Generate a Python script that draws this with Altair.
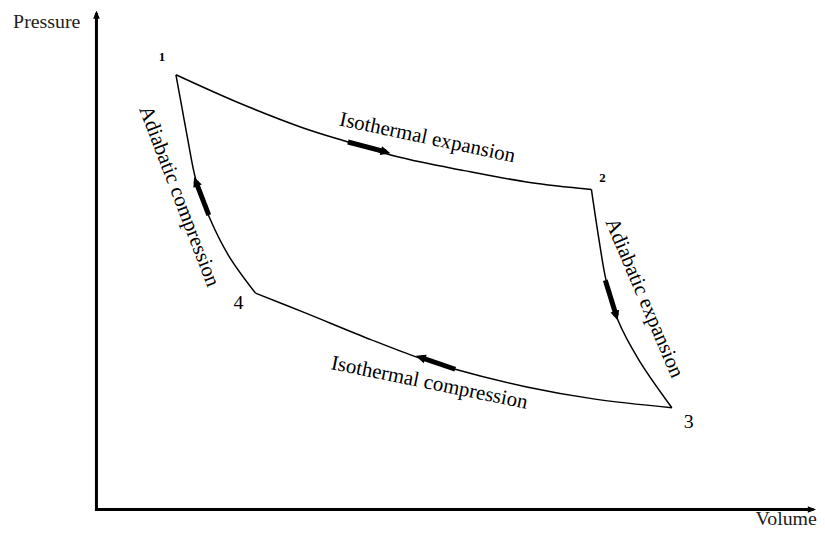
import altair as alt
import pandas as pd

# ---- Carnot cycle path (volume, pressure; arbitrary units) ----
iso_exp_v = [11.03, 19.31, 28.41, 34.90, 41.79, 51.03, 60.14, 68.69]
iso_exp_p = [86.96, 81.62, 76.48, 73.52, 70.55, 67.79, 65.42, 64.03]

adi_exp_v = [68.69, 69.79, 70.76, 72.41, 75.31, 79.86]
adi_exp_p = [64.03, 53.56, 45.65, 37.75, 29.84, 20.36]

iso_comp_v = [79.86, 68.97, 59.72, 49.79, 44.55, 38.07, 28.97, 22.07]
iso_comp_p = [20.36, 22.13, 24.51, 28.06, 30.43, 33.99, 39.33, 43.28]

adi_comp_v = [22.07, 18.34, 15.59, 13.79, 12.69, 11.86, 11.03]
adi_comp_p = [43.28, 50.79, 58.70, 66.01, 73.91, 80.43, 86.96]

# direction arrows on the cycle (tail -> head)
arrow_tail_v = [34.90, 70.62, 49.79, 15.59]
arrow_tail_p = [73.52, 45.85, 28.06, 58.89]
arrow_head_v = [40.14, 72.14, 44.97, 13.79]
arrow_head_p = [71.54, 38.74, 30.43, 65.61]
arrow_angle = [105, 163, 289, 339]

# process labels
proc_text = ["Isothermal expansion", "Adiabatic expansion",
             "Isothermal compression", "Adiabatic compression"]
proc_v = [45.93, 76.00, 46.21, 11.45]
proc_p = [74.31, 42.29, 25.30, 62.65]
proc_angle = [12, 67, 11.5, 69]

# state labels (1 and 2 are small figures, 3 and 4 full-size)
small_state_text = ["1", "2"]
small_state_v = [9.10, 70.21]
small_state_p = [90.51, 66.40]
big_state_text = ["3", "4"]
big_state_v = [82.21, 19.72]
big_state_p = [17.59, 41.30]

# axis titles
axis_text = ["Pressure", "Volume"]
axis_v = [-6.90, 95.72]
axis_p = [96.4, -3.18]

# axis lines
axis_line_v = [0, 0]
axis_line_p = [0, 0]
axis_line_v2 = [0, 99.3]
axis_line_p2 = [99.0, 0]
axis_head_v = [0, 99.3]
axis_head_p = [99.0, 0]
axis_head_angle = [0, 90]

# ---------------------------------------------------------------
rows = []
for name, vs, ps in [("ie", iso_exp_v, iso_exp_p), ("ae", adi_exp_v, adi_exp_p),
                     ("ic", iso_comp_v, iso_comp_p), ("ac", adi_comp_v, adi_comp_p)]:
    for i, (v, p) in enumerate(zip(vs, ps)):
        rows.append({"seg": name, "i": i, "v": v, "p": p})
path_df = pd.DataFrame(rows)

arrows_df = pd.DataFrame({"v": arrow_tail_v, "p": arrow_tail_p,
                          "v2": arrow_head_v, "p2": arrow_head_p, "angle": arrow_angle})
proc_df = pd.DataFrame({"t": proc_text, "v": proc_v, "p": proc_p, "angle": proc_angle})
small_df = pd.DataFrame({"t": small_state_text, "v": small_state_v, "p": small_state_p})
big_df = pd.DataFrame({"t": big_state_text, "v": big_state_v, "p": big_state_p})
axis_txt_df = pd.DataFrame({"t": axis_text, "v": axis_v, "p": axis_p})
axis_line_df = pd.DataFrame({"v": axis_line_v, "p": axis_line_p,
                             "v2": axis_line_v2, "p2": axis_line_p2})
axis_head_df = pd.DataFrame({"v": axis_head_v, "p": axis_head_p, "angle": axis_head_angle})

xs = alt.Scale(domain=[0, 100], nice=False, zero=False)
ys = alt.Scale(domain=[0, 100], nice=False, zero=False)
X = alt.X("v:Q", scale=xs, axis=None)
Y = alt.Y("p:Q", scale=ys, axis=None)

FONT = "Liberation Serif"

cycle = alt.Chart(path_df).mark_line(
    color="black", strokeWidth=1.5, interpolate="catmull-rom"
).encode(x=X, y=Y, detail="seg:N", order="i:Q")

arrow_body = alt.Chart(arrows_df).mark_rule(color="black", strokeWidth=5).encode(
    x=X, y=Y, x2="v2:Q", y2="p2:Q")

arrow_head = alt.Chart(arrows_df).mark_point(
    shape="M-0.9,1L0,-1L0.9,1Z", filled=True, color="black", size=100, opacity=1
).encode(x=alt.X("v2:Q", scale=xs, axis=None), y=alt.Y("p2:Q", scale=ys, axis=None),
         angle=alt.Angle("angle:Q", scale=None))

axis_lines = alt.Chart(axis_line_df).mark_rule(
    color="black", strokeWidth=3, strokeCap="square"
).encode(x=X, y=Y, x2="v2:Q", y2="p2:Q")

axis_heads = alt.Chart(axis_head_df).mark_point(
    shape="M-0.8,1L0,-1L0.8,1Z", filled=True, color="black", size=70, opacity=1
).encode(x=X, y=Y, angle=alt.Angle("angle:Q", scale=None))

proc_labels = alt.Chart(proc_df).mark_text(
    font=FONT, fontSize=21, color="black", align="center", baseline="middle"
).encode(x=X, y=Y, text="t:N", angle=alt.Angle("angle:Q", scale=None))

small_labels = alt.Chart(small_df).mark_text(
    font=FONT, fontSize=13, color="black", align="center", baseline="middle",
    fontWeight="bold"
).encode(x=X, y=Y, text="t:N")

big_labels = alt.Chart(big_df).mark_text(
    font=FONT, fontSize=20, color="black", align="center", baseline="middle"
).encode(x=X, y=Y, text="t:N")

axis_titles = alt.Chart(axis_txt_df).mark_text(
    font=FONT, fontSize=20, color="#222222", align="center", baseline="alphabetic"
).encode(x=X, y=Y, text="t:N")

chart = alt.layer(
    axis_lines, axis_heads, cycle, arrow_body, arrow_head,
    proc_labels, small_labels, big_labels, axis_titles
).properties(
    width=725, height=503,
    padding={"left": 89, "top": 0, "right": 0, "bottom": 18},
    autosize="none",
    background="white",
).configure_view(stroke=None)

chart.save("out.html", embed_options={"renderer": "svg", "actions": False})
